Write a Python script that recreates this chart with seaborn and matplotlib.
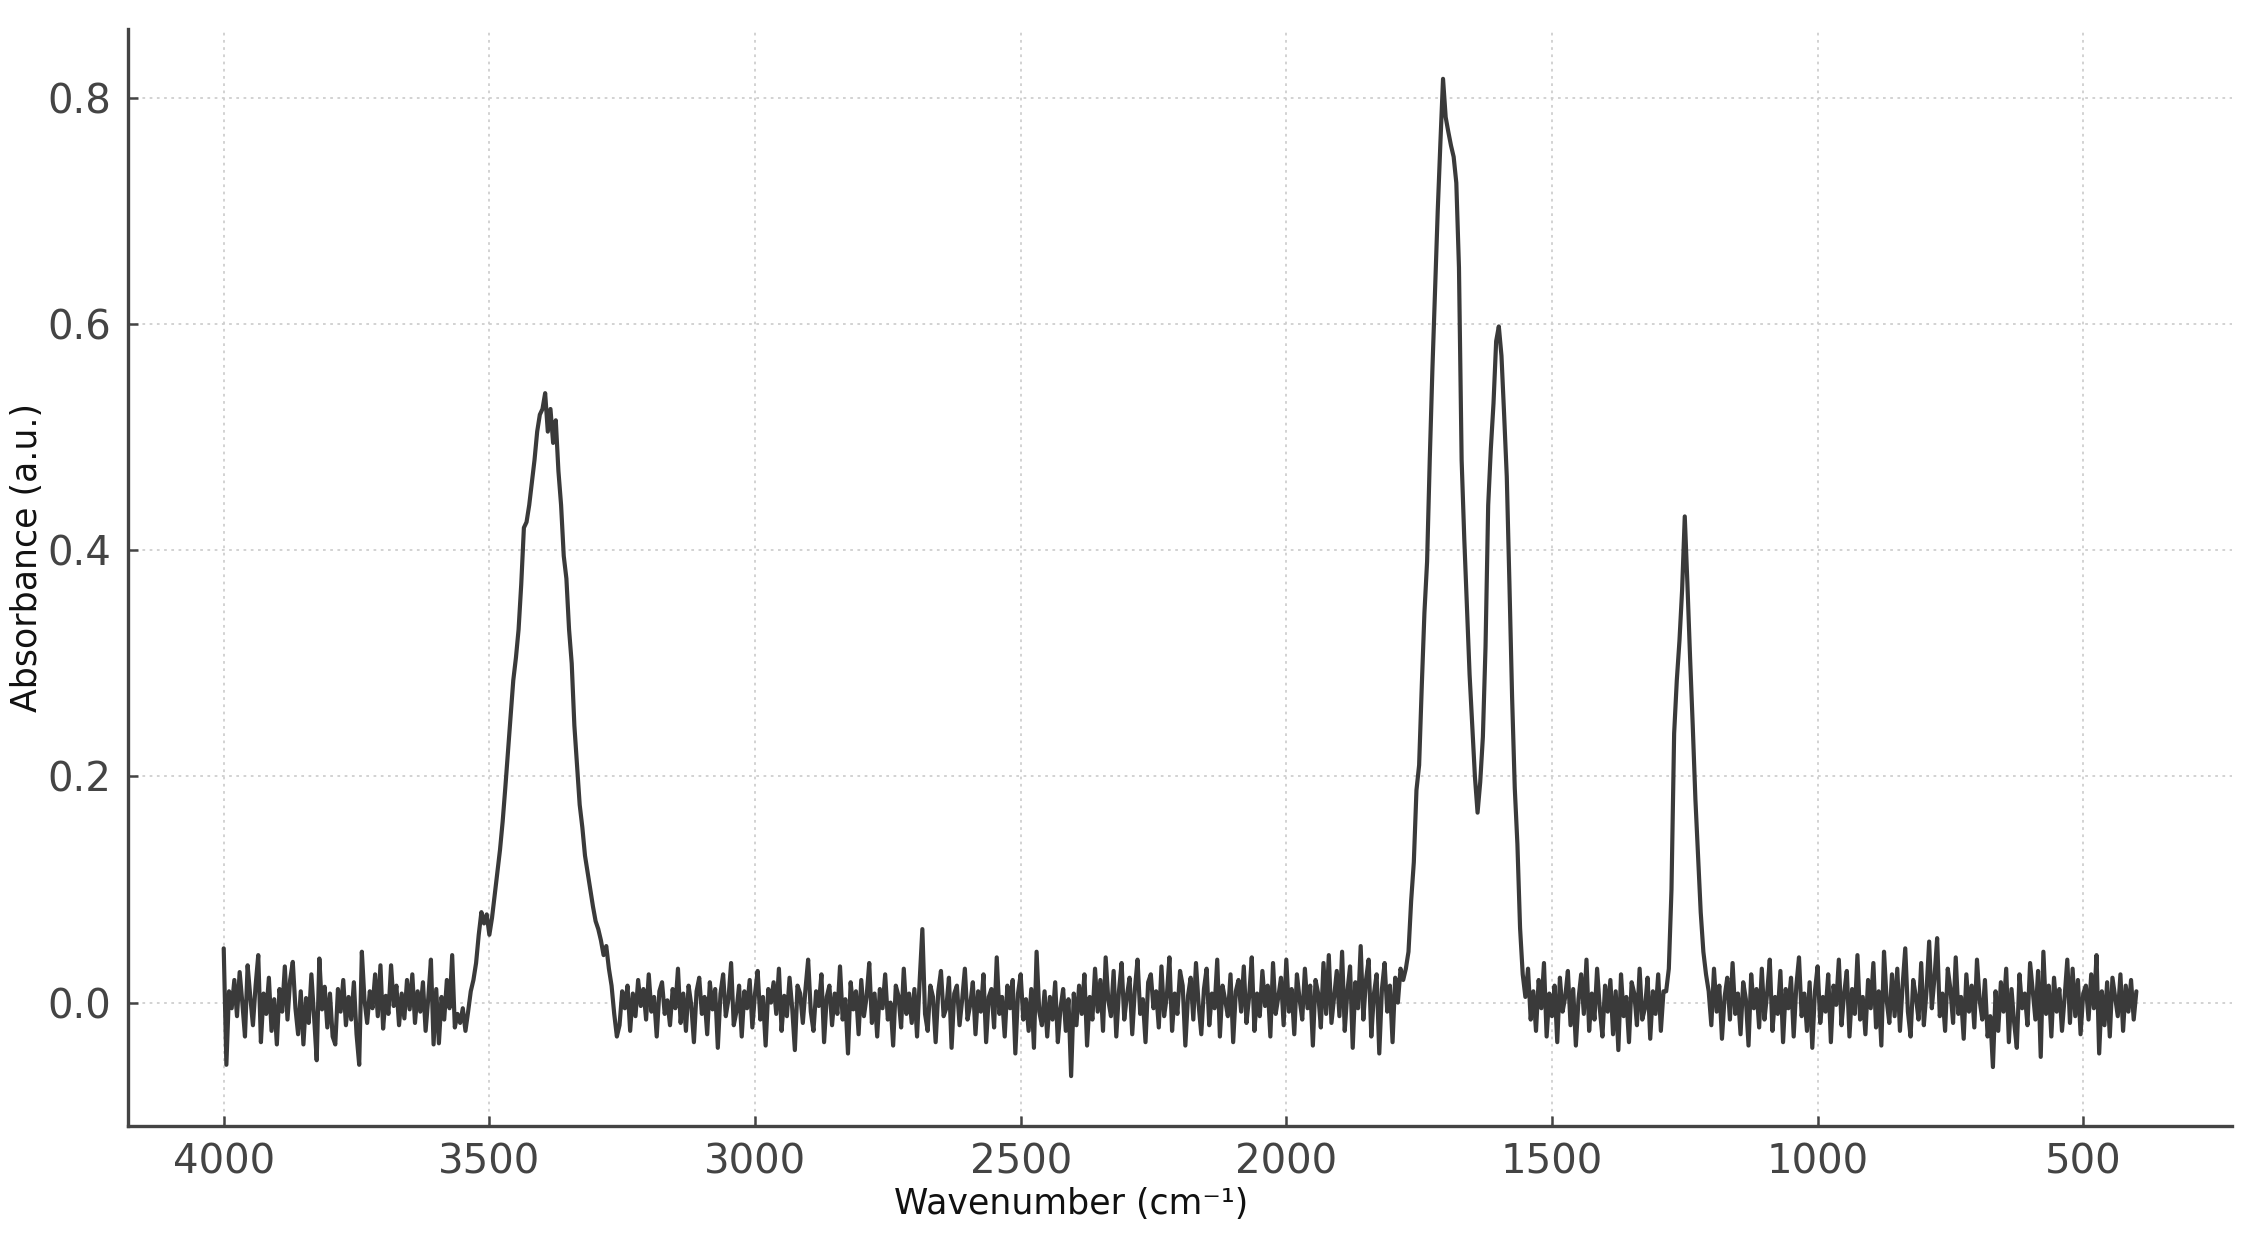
import numpy as np
import pandas as pd
import matplotlib
matplotlib.use("Agg")
import matplotlib.pyplot as plt
import seaborn as sns

# ---- data (absorbance in milli-units), 5 cm-1 step ----
STEP = 5
seg_a_start = 4000  # baseline 4000 -> 3525
seg_a = [48, -55, 10, -5, 20, -12, 27, 0, -30, 33,
         5, -20, 15, 42, -35, 8, -10, 22, -25, 3,
         -37, 12, -8, 32, -15, 20, 36, -5, -28, 10,
         -37, 4, -18, 25, -12, -51, 39, -6, 14, -22,
         8, -30, -37, 12, -8, 20, -20, 5, -15, 18,
         -28, -55, 45, 2, -18, 10, -5, 25, -12, 33,
         -23, 6, -10, 33, -3, 15, -20, 8, -14, 20,
         -6, 25, -18, 10, -8, 18, -25, 4, 38, -37,
         12, -36, 5, -15, 20, -5, 42, -22, -10, -18,
         -5, -25, -8, 10, 20, 35]
seg_b_start = 3520  # O-H band
seg_b = [60, 80, 70, 78, 60, 75, 95, 115, 135, 160,
         190, 222, 255, 285, 305, 330, 370, 420, 425, 440,
         460, 480, 505, 520, 525, 539, 505, 525, 495, 515,
         470, 440, 395, 375, 330, 300, 245, 210, 175, 155,
         130, 115, 100, 85, 72, 65, 55, 42, 50, 30,
         15, -10, -30]
seg_c_start = 3255  # baseline 3255 -> 1785
seg_c = [-20, 10, -5, 15, -25, 8, -12, 20, -3, 12,
         -15, 25, -8, 5, -30, 10, 18, -10, 2, -20,
         12, -5, 30, -18, 8, -25, 15, -2, -35, 10,
         22, -10, 5, -28, 18, -6, 12, -40, 8, 25,
         -12, 3, 35, -20, -8, 15, -30, 10, -5, 20,
         -22, 8, 28, -15, 5, -38, 12, 0, 18, -10,
         30, -25, 6, -12, 22, -5, -42, 15, 8, -18,
         12, 38, -8, -25, 10, -3, 25, -35, 5, 15,
         -20, 8, -10, 32, -15, 3, -45, 18, -6, 10,
         -28, 20, -12, 5, 35, -18, 8, -30, 12, -5,
         25, -15, 0, -38, 15, 6, -22, 30, -10, 8,
         -18, 12, -30, 20, 65, -10, -25, 15, 5, -35,
         10, 28, -12, -5, 22, -40, 8, 15, -20, 3,
         30, -15, -2, 18, -28, 10, -8, 25, -35, 5,
         12, -22, 40, -10, 5, -30, 15, -5, 20, -45,
         8, 25, -15, 3, -25, 12, -40, 45, -8, -20,
         10, -30, 5, -15, 18, -35, -5, 12, -25, 3,
         -65, 8, -20, 15, -10, 25, -38, 5, -15, 30,
         -8, 20, -25, 40, 2, -12, 28, -30, 10, 35,
         -15, 6, 22, -28, 12, 38, -10, 3, -35, 18,
         25, -5, 10, -22, 32, -12, 5, 40, -25, 8,
         -10, 28, 15, -38, 6, 22, -15, 35, -2, -28,
         12, 30, -20, 8, -5, 38, -30, 15, 2, -12,
         25, -35, 10, 20, -8, 32, -18, 5, 40, -25,
         8, -12, 28, -3, 15, -30, 35, -10, 5, 22,
         -20, 38, -8, 12, -28, 25, 3, -15, 30, -5,
         15, -38, 20, 8, -22, 35, -10, 42, -18, 5,
         28, -12, 45, -25, 10, 32, -40, 18, -5, 50,
         -15, 20, 38, -30, 8, 25, -45, 12, 35, -8,
         15, -35, 22, 0, 30]
seg_d_start = 1780  # C=O / C=C doublet
seg_d = [20, 30, 45, 90, 124, 188, 210, 280, 345, 390,
         480, 560, 630, 700, 760, 817, 783, 770, 758, 748,
         725, 650, 480, 410, 350, 290, 245, 200, 168, 195,
         235, 315, 440, 490, 530, 585, 598, 572, 520, 465,
         370, 270, 190, 140, 66, 25, 5]
seg_e_start = 1545  # baseline 1545 -> 1290
seg_e = [30, -15, 10, -25, 20, -5, 35, -30, 8, -12,
         15, -35, 22, -8, 5, 28, -20, 12, -38, 3,
         25, -10, 38, -25, 8, -15, 30, -5, -30, 15,
         -8, 20, -28, 10, -42, 25, -12, 5, -35, 18,
         8, -20, 30, -15, -5, 22, -32, 10, -10, 25,
         -25, 10]
seg_f_start = 1285  # C-O band
seg_f = [10, 30, 100, 238, 285, 320, 365, 430, 370, 305,
         245, 180, 130, 80, 45, 25]
seg_g_start = 1205  # baseline 1205 -> 400
seg_g = [10, -20, 30, -8, 15, -32, 5, 22, -15, 35,
         -10, 8, -28, 18, 3, -38, 25, -5, 12, -22,
         30, -15, 8, 38, -25, 5, -10, 28, -35, 12,
         -5, 22, -30, 15, 40, -12, 8, -25, 18, -40,
         10, 32, -18, 5, -8, 25, -35, 15, -2, 38,
         -20, 8, 28, -30, 12, -10, 42, -15, 5, -28,
         20, -5, 35, -22, 10, -38, 45, 2, -18, 25,
         -12, 30, -25, 15, 48, -8, -30, 20, 5, -15,
         35, -20, 10, 54, -5, 22, 57, -12, 8, -25,
         30, 12, -18, 40, -10, 5, -32, 25, -8, 15,
         -22, 38, 2, -15, 20, -30, -12, -57, 10, -25,
         18, -8, 30, -35, 12, -18, -40, 25, -5, 8,
         -20, 35, 10, -15, 28, -48, 45, -10, 15, -30,
         22, -8, 12, -25, 5, 38, -18, 30, -12, 20,
         -28, 8, 15, -15, 25, -5, 42, -45, 10, -20,
         18, -30, 22, 5, -12, 25, -25, 15, -8, 20,
         -15, 10]

segments = [(seg_a_start, seg_a), (seg_b_start, seg_b), (seg_c_start, seg_c),
            (seg_d_start, seg_d), (seg_e_start, seg_e), (seg_f_start, seg_f),
            (seg_g_start, seg_g)]

x_ticks = [4000, 3500, 3000, 2500, 2000, 1500, 1000, 500]
y_ticks = [0.0, 0.2, 0.4, 0.6, 0.8]
x_label = "Wavenumber (cm⁻¹)"
y_label = "Absorbance (a.u.)"

wn_parts, ab_parts = [], []
for start, vals in segments:
    wn_parts.append(start - STEP * np.arange(len(vals)))
    ab_parts.append(np.asarray(vals, dtype=float) / 1000.0)
df = pd.DataFrame({"wavenumber": np.concatenate(wn_parts),
                   "absorbance": np.concatenate(ab_parts)})

# ---- styling ----
sns.set_theme(style="whitegrid")
plt.rcParams["font.family"] = ["DejaVu Sans"]
TXT = "#444444"

fig = plt.figure(figsize=(22.63, 12.38), dpi=100)
ax = fig.add_axes([0.0566, 0.0905, 0.9297, 0.8861])
ax.set_facecolor("white")

sns.lineplot(data=df, x="wavenumber", y="absorbance", ax=ax, sort=False,
             estimator=None, color="#3a3a3a", linewidth=3.0)

ax.margins(x=0.05, y=0.05)
ax.invert_xaxis()
ax.set_xticks(x_ticks)
ax.set_xticklabels([str(t) for t in x_ticks])
ax.set_yticks(y_ticks)
ax.set_yticklabels([f"{t:.1f}" for t in y_ticks])

ax.grid(True, color="#cfcfcf", linestyle=(0, (1.5, 2.5)), linewidth=1.3)
for side in ["top", "right"]:
    ax.spines[side].set_visible(False)
for side in ["left", "bottom"]:
    ax.spines[side].set_visible(True)
    ax.spines[side].set_color(TXT)
    ax.spines[side].set_linewidth(2.4)

ax.tick_params(axis="both", direction="in", length=7, width=1.8, color=TXT,
               labelcolor=TXT, labelsize=29, pad=12)
ax.tick_params(axis="x", bottom=True)
ax.tick_params(axis="y", left=True)

ax.set_xlabel(x_label, fontsize=25, color="#111111")
ax.set_ylabel(y_label, fontsize=25, color="#111111")
ax.xaxis.set_label_coords(0.448, -0.056)
ax.yaxis.set_label_coords(-0.040, 0.518)

fig.savefig("out.png", dpi=100, facecolor="white")
